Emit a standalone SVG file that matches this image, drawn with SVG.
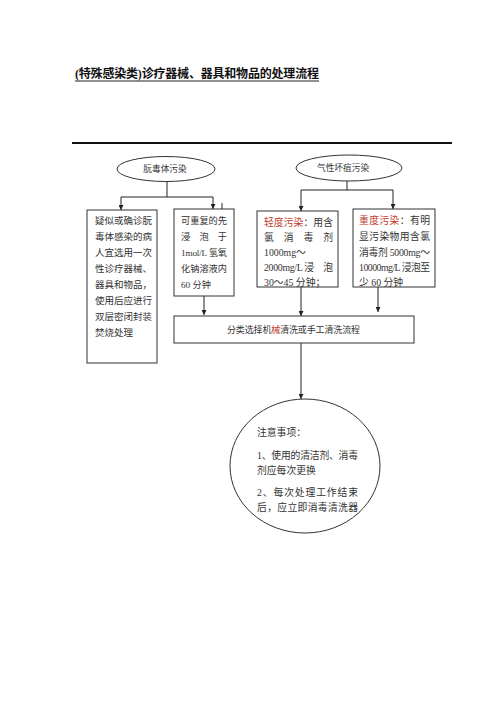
<svg xmlns="http://www.w3.org/2000/svg" width="500" height="707" viewBox="0 0 500 707">
<style>
.t{font-family:"Liberation Serif","Noto Sans CJK SC",serif;fill:#333}
.box{fill:#fff;stroke:#333;stroke-width:1}
.c{fill:none;stroke:#222;stroke-width:1}
.red{fill:#c0392b}
</style>
<defs>
<marker id="ah" viewBox="0 0 10 10" refX="10" refY="5" markerWidth="5" markerHeight="5" orient="auto" markerUnits="userSpaceOnUse">
<path d="M0,0 L10,5 L0,10 Z" fill="#222"/>
</marker>
</defs>
<rect width="500" height="707" fill="#fff"/>
<g id="title">
<text class="t" x="75" y="78" font-size="12" font-weight="bold" fill="#111" style="fill:#111" textLength="244" lengthAdjust="spacing">(特殊感染类)诊疗器械、器具和物品的处理流程</text>
<line x1="75" y1="81" x2="319" y2="81" stroke="#222" stroke-width="1"/>
</g>
<line x1="72" y1="143" x2="452" y2="143" stroke="#111" stroke-width="2"/>
<g id="connectors">
<path class="c" d="M167,182 V197 M121,197 H213"/>
<path class="c" d="M121,197 V210" marker-end="url(#ah)"/>
<path class="c" d="M213,197 V209" marker-end="url(#ah)"/>
<path class="c" d="M222,203 V214" marker-end="url(#ah)"/>
<path class="c" d="M204,296 V315" marker-end="url(#ah)"/>
<path class="c" d="M347,181 V190 M301,190 H393"/>
<path class="c" d="M301,190 V211" marker-end="url(#ah)"/>
<path class="c" d="M393,190 V209" marker-end="url(#ah)"/>
<path class="c" d="M301,287 V316" marker-end="url(#ah)"/>
<path class="c" d="M378,287 V312" marker-end="url(#ah)"/>
<path class="c" d="M301,343 V399" marker-end="url(#ah)"/>
</g>
<g id="e1">
<ellipse cx="166" cy="169" rx="49" ry="12.5" class="box"/>
<text class="t" x="165" y="172" font-size="8.7" text-anchor="middle">朊毒体污染</text>
</g>
<g id="e2">
<ellipse cx="349" cy="168" rx="53" ry="13" class="box"/>
<text class="t" x="343" y="171" font-size="8.7" text-anchor="middle">气性坏疽污染</text>
</g>
<g id="b1">
<rect x="87" y="210" width="70" height="153" class="box"/>
<g class="t" font-size="9.5">
<text x="95" y="223.5" textLength="57" lengthAdjust="spacing">疑似或确诊朊</text>
<text x="95" y="239.5" textLength="57" lengthAdjust="spacing">毒体感染的病</text>
<text x="95" y="255.5" textLength="57" lengthAdjust="spacing">人宜选用一次</text>
<text x="95" y="271.5" textLength="57" lengthAdjust="spacing">性诊疗器械、</text>
<text x="95" y="287.5" textLength="57" lengthAdjust="spacing">器具和物品，</text>
<text x="95" y="303.5" textLength="57" lengthAdjust="spacing">使用后应进行</text>
<text x="95" y="319.5" textLength="57" lengthAdjust="spacing">双层密闭封装</text>
<text x="95" y="335.5">焚烧处理</text>
</g>
</g>
<g id="b2">
<rect x="174" y="209" width="60" height="87" class="box"/>
<g class="t" font-size="9.2">
<text x="181" y="223.5" textLength="46" lengthAdjust="spacing">可重复的先</text>
<text x="181" y="239.5" textLength="46" lengthAdjust="spacing">浸　泡　于</text>
<text x="181" y="255.5" textLength="46" lengthAdjust="spacing">1mol/L 氢氧</text>
<text x="181" y="271.5" textLength="46" lengthAdjust="spacing">化钠溶液内</text>
<text x="181" y="287.5">60 分钟</text>
</g>
</g>
<g id="b3">
<rect x="257" y="211" width="81" height="76" class="box"/>
<g class="t" font-size="9.8">
<text x="264" y="225.5" textLength="69" lengthAdjust="spacing"><tspan class="red">轻度污染</tspan>：用含</text>
<text x="264" y="240.5" textLength="69" lengthAdjust="spacing">氯　消　毒　剂</text>
<text x="264" y="255.5">1000mg～</text>
<text x="264" y="270.5" textLength="69" lengthAdjust="spacing">2000mg/L 浸　泡</text>
<text x="264" y="285.5">30～45 分钟；</text>
</g>
</g>
<g id="b4">
<rect x="353" y="209" width="82" height="78" class="box"/>
<g class="t" font-size="9.8">
<text x="359" y="223.5" textLength="71" lengthAdjust="spacing"><tspan class="red">重度污染</tspan>：有明</text>
<text x="359" y="239.5" textLength="71" lengthAdjust="spacing">显污染物用含氯</text>
<text x="359" y="255.5" textLength="71" lengthAdjust="spacing">消毒剂 5000mg～</text>
<text x="359" y="270.5" textLength="71" lengthAdjust="spacing">10000mg/L 浸泡至</text>
<text x="359" y="285.5">少 60 分钟</text>
</g>
</g>
<g id="b5">
<rect x="174" y="316" width="240" height="27" class="box"/>
<text class="t" x="227" y="332.5" font-size="9" textLength="133" lengthAdjust="spacing">分类选择机<tspan class="red">械</tspan>清洗或手工清洗流程</text>
</g>
<g id="e3">
<ellipse cx="305" cy="466" rx="75" ry="67" class="box"/>
<g class="t" font-size="9.8">
<text x="257" y="435.5">注意事项：</text>
<text x="257" y="458.5" textLength="101" lengthAdjust="spacing">1、使用的清洁剂、消毒</text>
<text x="257" y="473.5">剂应每次更换</text>
<text x="257" y="495.5" textLength="101" lengthAdjust="spacing">2、每次处理工作结束</text>
<text x="257" y="510.5" textLength="101" lengthAdjust="spacing">后，应立即消毒清洗器</text>
</g>
</g>
</svg>
